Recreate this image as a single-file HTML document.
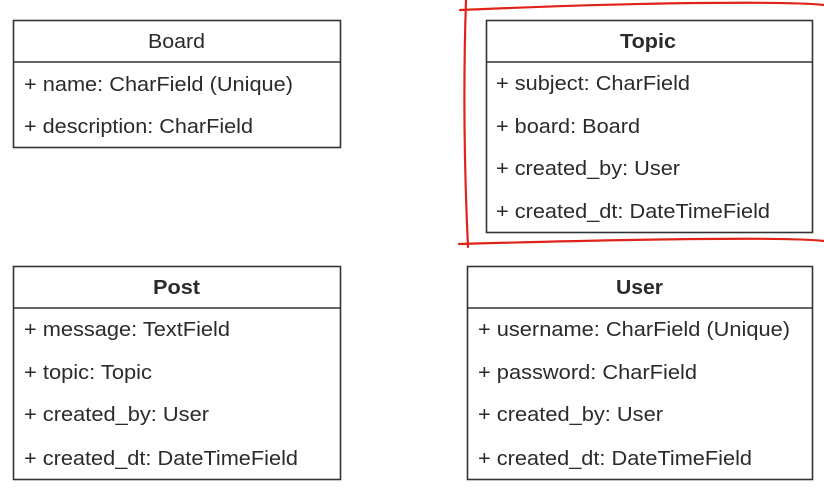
<!DOCTYPE html>
<html><head><style>
html,body{margin:0;padding:0;background:#fff;}
svg{display:block;}
text{font-family:"Liberation Sans",Arial,sans-serif;font-size:20px;fill:#2b2b2b;}
.h{font-size:20px;}
.b{font-weight:bold;}
</style></head><body>
<svg width="824" height="502" viewBox="0 0 824 502">
<g fill="#fff" stroke="#333" stroke-width="1.6">
<rect x="13.5" y="20.5" width="327" height="127"/>
<line x1="13.5" y1="62" x2="340.5" y2="62"/>
<rect x="486.5" y="20.5" width="326" height="212"/>
<line x1="486.5" y1="62" x2="812.5" y2="62"/>
<rect x="13.5" y="266.5" width="327" height="213"/>
<line x1="13.5" y1="308" x2="340.5" y2="308"/>
<rect x="467.5" y="266.5" width="345" height="213"/>
<line x1="467.5" y1="308" x2="812.5" y2="308"/>
</g>
<text class="h" x="148" y="48" textLength="57" lengthAdjust="spacingAndGlyphs">Board</text>
<text x="24" y="91" textLength="269" lengthAdjust="spacingAndGlyphs">+ name: CharField (Unique)</text>
<text x="24" y="133" textLength="229" lengthAdjust="spacingAndGlyphs">+ description: CharField</text>

<text class="h b" x="620" y="48" textLength="56" lengthAdjust="spacingAndGlyphs">Topic</text>
<text x="496" y="90" textLength="194" lengthAdjust="spacingAndGlyphs">+ subject: CharField</text>
<text x="496" y="133" textLength="144" lengthAdjust="spacingAndGlyphs">+ board: Board</text>
<text x="496" y="175" textLength="184" lengthAdjust="spacingAndGlyphs">+ created_by: User</text>
<text x="496" y="218" textLength="274" lengthAdjust="spacingAndGlyphs">+ created_dt: DateTimeField</text>

<text class="h b" x="153" y="294" textLength="47" lengthAdjust="spacingAndGlyphs">Post</text>
<text x="24" y="336" textLength="206" lengthAdjust="spacingAndGlyphs">+ message: TextField</text>
<text x="24" y="379" textLength="128" lengthAdjust="spacingAndGlyphs">+ topic: Topic</text>
<text x="24" y="421" textLength="185" lengthAdjust="spacingAndGlyphs">+ created_by: User</text>
<text x="24" y="465" textLength="274" lengthAdjust="spacingAndGlyphs">+ created_dt: DateTimeField</text>

<text class="h b" x="616" y="294" textLength="47" lengthAdjust="spacingAndGlyphs">User</text>
<text x="478" y="336" textLength="312" lengthAdjust="spacingAndGlyphs">+ username: CharField (Unique)</text>
<text x="478" y="379" textLength="219" lengthAdjust="spacingAndGlyphs">+ password: CharField</text>
<text x="478" y="421" textLength="185" lengthAdjust="spacingAndGlyphs">+ created_by: User</text>
<text x="478" y="465" textLength="274" lengthAdjust="spacingAndGlyphs">+ created_dt: DateTimeField</text>

<g fill="none" stroke="#e0231a" stroke-width="2.2" stroke-linecap="round">
<path d="M460 10 Q600 4 700 3 T824 5"/>
<path d="M466 0 Q462 120 468 247"/>
<path d="M459 244 Q600 240 700 239 T824 241"/>
</g>
</svg>
</body></html>
